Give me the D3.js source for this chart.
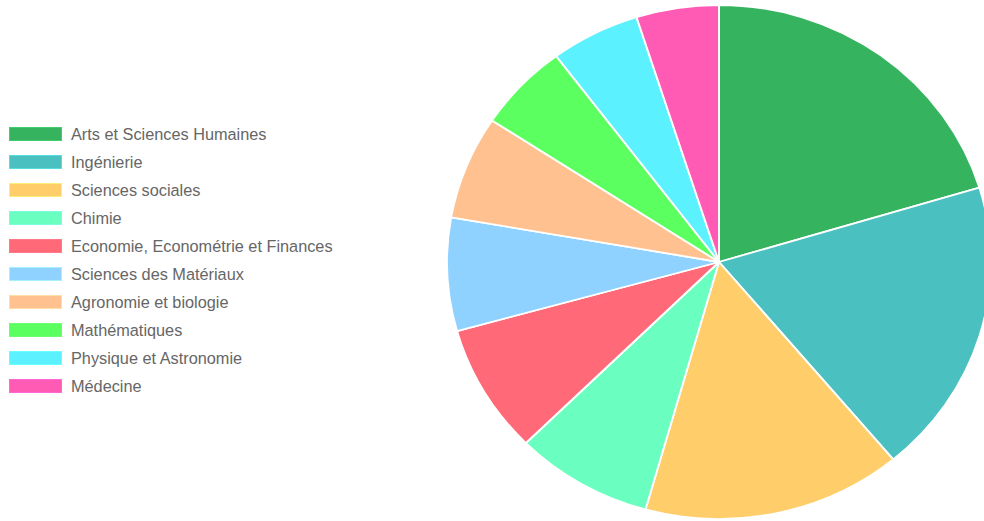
<!DOCTYPE html>
<html>
<head>
<meta charset="utf-8">
<script src="https://cdn.jsdelivr.net/npm/d3@7"></script>
<style>
  html, body { margin: 0; padding: 0; background: #fff; overflow: hidden; }
  svg { display: block; }
</style>
</head>
<body>
<div id="chart"></div>
<script>
// domaines et parts
const domaines = ["Arts et Sciences Humaines", "Ingénierie", "Sciences sociales", "Chimie",
    "Economie, Econométrie et Finances", "Sciences des Matériaux", "Agronomie et biologie",
    "Mathématiques", "Physique et Astronomie", "Médecine"];
const parts = [20.3, 18.6, 15.4, 8.2, 8.1, 7.1, 6.5, 5.5, 5.3, 4.9];
const couleurs = ["#36b35f", "#4bc0c0", "#ffcd69", "#6affc0", "#ff6978",
    "#8fd1ff", "#ffc190", "#5bff5f", "#5cf1ff", "#ff5ab4"];

const width = 984, height = 521;

const svg = d3.select("#chart").append("svg")
    .attr("width", width)
    .attr("height", height);

// the pie is slightly stretched horizontally in the reference
var radius = 257;
var stretch = 272 / 257;

var pie = d3.pie().sort(null).value(d => d);
var arc = d3.arc().innerRadius(0).outerRadius(radius);

var pieGroup = svg.append("g")
    .attr("transform", `translate(719, 262) scale(${stretch}, 1)`);

pieGroup.selectAll("path")
    .data(pie(parts))
    .enter()
    .append("path")
    .attr("d", arc)
    .attr("fill", (d, i) => couleurs[i])
    .attr("stroke", "#fff")
    .attr("stroke-width", 1.8)
    .attr("stroke-linejoin", "round");

// legend
var y = d3.scaleBand().domain(domaines).range([120, 400]);

var legend = svg.append("g");

var items = legend.selectAll("g")
    .data(domaines)
    .enter()
    .append("g")
    .attr("transform", d => `translate(0, ${y(d) + y.bandwidth() / 2})`);

items.append("rect")
    .attr("x", 9.5)
    .attr("y", -6.5)
    .attr("width", 52)
    .attr("height", 13)
    .attr("fill", (d, i) => couleurs[i])
    .attr("stroke", (d, i) => d3.color(couleurs[i]).brighter(0.4))
    .attr("stroke-width", 1);

items.append("text")
    .attr("x", 71)
    .attr("dy", "0.35em")
    .attr("font-family", "'Liberation Sans', Arial, sans-serif")
    .attr("font-size", 16.3)
    .attr("fill", "#666")
    .text(d => d);
</script>
</body>
</html>
